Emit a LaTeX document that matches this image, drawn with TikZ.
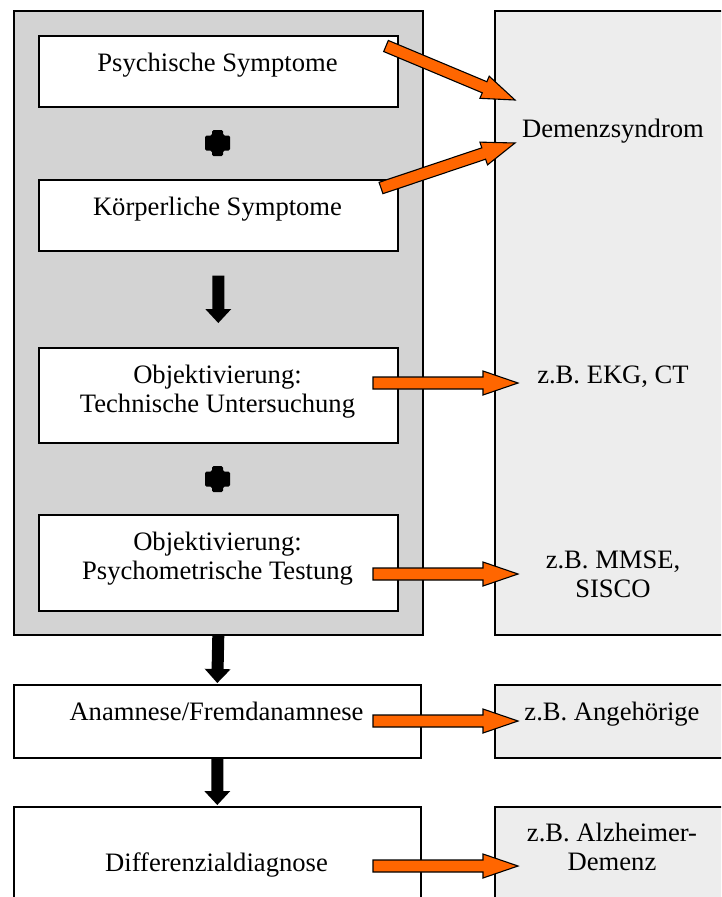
\documentclass[tikz,border=0pt]{standalone}
\usepackage{fontspec}
\setmainfont{Liberation Serif}
\usetikzlibrary{calc}
\definecolor{orng}{HTML}{FF6600}
\definecolor{panelgray}{HTML}{D3D3D3}
\definecolor{panellight}{HTML}{EDEDED}
\tikzset{
  frame/.style={draw=black, line width=1.6pt, inner sep=0pt, anchor=north west},
  graypanel/.style={frame, fill=panelgray},
  lightpanel/.style={frame, fill=panellight},
  whitebox/.style={frame, fill=white},
  lbl/.style={font=\fontsize{26.6pt}{29pt}\selectfont, inner sep=0pt, anchor=base},
  oarrowstyle/.style={draw=black, line width=1.1pt, fill=orng, line join=miter},
  karrowstyle/.style={fill=black},
}
% block arrow: #1 style, #2 tail, #3 tip, #4 half shaft, #5 half head, #6 head length
\newcommand\blockarr[6]{%
  \coordinate (ba-hb) at ($(#3)!#6!(#2)$);
  \path[#1] ($(#2)!#4!90:(#3)$) -- ($(ba-hb)!#4!90:(#3)$) -- ($(ba-hb)!#5!90:(#3)$)
    -- (#3) -- ($(ba-hb)!#5!-90:(#3)$) -- ($(ba-hb)!#4!-90:(#3)$)
    -- ($(#2)!#4!-90:(#3)$) -- cycle;
}
\newcommand\plusmark[1]{%
  \fill[shift={(#1)}, rounded corners=1.5pt]
    (-5.5,-13) -- (5.5,-13) -- (5.5,-7.5) -- (12.5,-7.5) -- (12.5,7.5)
    -- (5.5,7.5) -- (5.5,13) -- (-5.5,13) -- (-5.5,7.5) -- (-12.5,7.5)
    -- (-12.5,-7.5) -- (-5.5,-7.5) -- cycle;
}
\begin{document}
\begin{tikzpicture}[x=1pt, y=-1pt]
\useasboundingbox (0,0) rectangle (721,897);
\clip (0,0) rectangle (721,897);

% panels
\node[graypanel, minimum width=409pt, minimum height=624pt] (leftpanel) at (13,10) {};
\node[lightpanel, minimum width=250pt, minimum height=624pt] (rightpanel) at (494,10) {};

% boxes
\node[whitebox, minimum width=359pt, minimum height=71pt] (psy) at (38,35) {};
\node[whitebox, minimum width=359pt, minimum height=71pt] (kor) at (38,179) {};
\node[whitebox, minimum width=359pt, minimum height=95pt] (objt) at (38,347) {};
\node[whitebox, minimum width=359pt, minimum height=96pt] (objp) at (38,514) {};
\node[whitebox, minimum width=407pt, minimum height=73pt] (anam) at (13,684) {};
\node[whitebox, minimum width=407pt, minimum height=120pt] (diff) at (13,806) {};
\node[lightpanel, minimum width=250pt, minimum height=73pt] (ang) at (494,684) {};
\node[lightpanel, minimum width=250pt, minimum height=120pt] (alz) at (494,806) {};

% plus marks
\coordinate (plus1) at (217.5,143);
\coordinate (plus2) at (217.5,479);
\plusmark{plus1}
\plusmark{plus2}

% black arrows
\coordinate (k1s) at ($(kor.south)+(0,24)$);
\coordinate (k1e) at ($(objt.north)+(0,-24)$);
\coordinate (k2s) at (leftpanel.south);
\coordinate (k2e) at ($(anam.north)+(0,-1)$);
\coordinate (k3s) at (anam.south);
\coordinate (k3e) at ($(diff.north)+(0,-1)$);
\blockarr{karrowstyle}{k1s}{k1e}{6pt}{13pt}{14pt}
\blockarr{karrowstyle}{k2s}{k2e}{6pt}{13pt}{14pt}
\blockarr{karrowstyle}{k3s}{k3e}{6pt}{13pt}{14pt}

% orange arrows
\coordinate (o1s) at (386,46);  \coordinate (o1e) at (515,100);
\coordinate (o2s) at (381,188); \coordinate (o2e) at (515,143);
\coordinate (o3s) at (373,383); \coordinate (o3e) at (518,383);
\coordinate (o4s) at (373,574); \coordinate (o4e) at (518,574);
\coordinate (o5s) at (373,721); \coordinate (o5e) at (518,721);
\coordinate (o6s) at (373,866); \coordinate (o6e) at (518,866);
\blockarr{oarrowstyle}{o1s}{o1e}{6pt}{12pt}{33pt}
\blockarr{oarrowstyle}{o2s}{o2e}{6pt}{12pt}{33pt}
\blockarr{oarrowstyle}{o3s}{o3e}{6pt}{12pt}{35pt}
\blockarr{oarrowstyle}{o4s}{o4e}{6pt}{12pt}{35pt}
\blockarr{oarrowstyle}{o5s}{o5e}{6pt}{12pt}{35pt}
\blockarr{oarrowstyle}{o6s}{o6e}{6pt}{12pt}{35pt}

% texts left
\node[lbl] (tpsy) at (217.5,71) {Psychische Symptome};
\node[lbl] (tkor) at (217.5,215) {Körperliche Symptome};
\node[lbl] (tobjt1) at (217.5,383) {Objektivierung:};
\node[lbl] (tobjt2) at (217.5,412) {Technische Untersuchung};
\node[lbl] (tobjp1) at (217.5,550) {Objektivierung:};
\node[lbl] (tobjp2) at (217.5,579) {Psychometrische Testung};
\node[lbl] (tanam) at (216.5,720) {Anamnese/Fremdanamnese};
\node[lbl] (tdiff) at (216.5,871) {Differenzialdiagnose};

% texts right
\node[lbl] (tdem) at (613,137) {Demenzsyndrom};
\node[lbl] (tekg) at (613,383) {z.B. EKG, CT};
\node[lbl] (tmmse1) at (613,568) {z.B. MMSE,};
\node[lbl] (tmmse2) at (613,597) {SISCO};
\node[lbl] (tang) at (612,720) {z.B. Angehörige};
\node[lbl] (talz1) at (612,841) {z.B. Alzheimer-};
\node[lbl] (talz2) at (612,870) {Demenz};
\end{tikzpicture}
\end{document}
